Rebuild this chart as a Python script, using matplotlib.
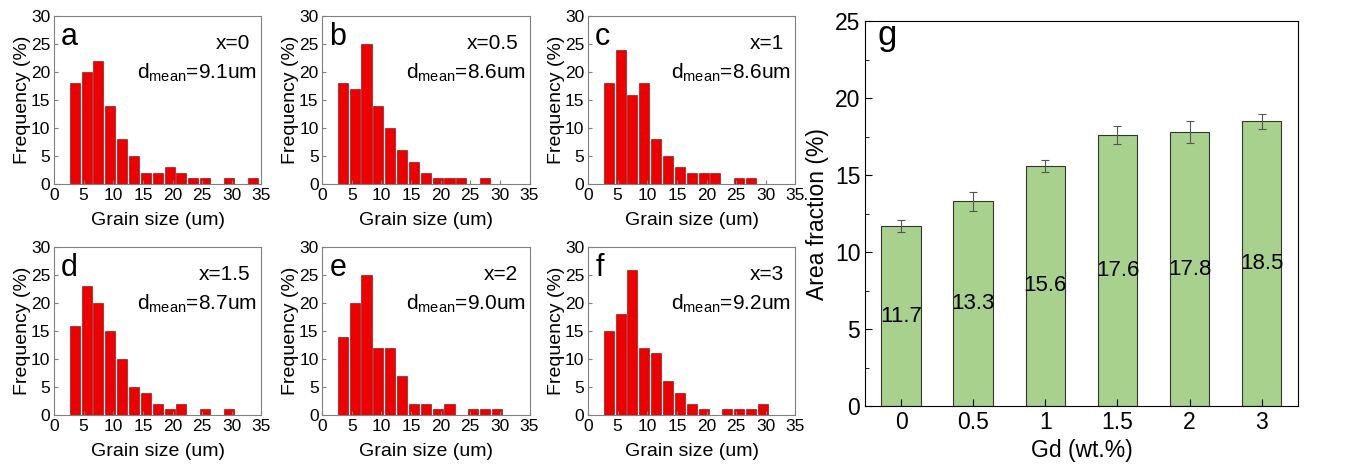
import matplotlib
matplotlib.use("Agg")
import matplotlib.pyplot as plt
import numpy as np

plt.rcParams['font.family'] = ['Liberation Sans', 'DejaVu Sans']
plt.rcParams['mathtext.fontset'] = 'custom'
plt.rcParams['mathtext.rm'] = 'Liberation Sans'

# ---- grain size histograms (bin centres in um, frequency in %) ----
bin_centers = [3.5, 5.5, 7.5, 9.5, 11.5, 13.5, 15.5, 17.5, 19.5, 21.5,
               23.5, 25.5, 27.5, 29.5, 31.5, 33.5]
freq_a = [18, 20, 22, 14, 8, 5, 2, 2, 3, 2, 1, 1, 0, 1, 0, 1]
freq_b = [18, 17, 25, 14, 10, 6, 4, 2, 1, 1, 1, 0, 1, 0, 0, 0]
freq_c = [18, 24, 16, 18, 8, 5, 3, 2, 2, 2, 0, 1, 1, 0, 0, 0]
freq_d = [16, 23, 20, 15, 10, 5, 4, 2, 1, 2, 0, 1, 0, 1, 0, 0]
freq_e = [14, 20, 25, 12, 12, 7, 2, 2, 1, 2, 0, 1, 1, 1, 0, 0]
freq_f = [15, 18, 26, 12, 11, 6, 4, 2, 1, 0, 1, 1, 1, 2, 0, 0]

panel_letters = ['a', 'b', 'c', 'd', 'e', 'f']
x_labels = ['x=0', 'x=0.5', 'x=1', 'x=1.5', 'x=2', 'x=3']
d_means = ['9.1', '8.6', '8.6', '8.7', '9.0', '9.2']

# ---- area fraction bar chart ----
gd_labels = ['0', '0.5', '1', '1.5', '2', '3']
area_frac = [11.7, 13.3, 15.6, 17.6, 17.8, 18.5]
area_err = [0.4, 0.6, 0.4, 0.6, 0.7, 0.5]

fig = plt.figure(figsize=(13.56, 4.70), dpi=100)

lefts = [0.0398, 0.2375, 0.4336]
bottoms = [0.6085, 0.117]
w, h = 0.153, 0.357
all_freq = [freq_a, freq_b, freq_c, freq_d, freq_e, freq_f]

for i, freq in enumerate(all_freq):
    ax = fig.add_axes([lefts[i % 3], bottoms[i // 3], w, h])
    ax.bar(bin_centers, freq, width=1.7, color='#ee0000',
           edgecolor='#7a0000', linewidth=0.4)
    ax.set_xlim(0, 35)
    ax.set_ylim(0, 30)
    ax.set_xticks(np.arange(0, 36, 5))
    ax.set_yticks(np.arange(0, 31, 5))
    ax.tick_params(direction='in', length=3, labelsize=12.5,
                   color='#808080')
    ax.tick_params(axis='x', pad=3)
    ax.tick_params(axis='y', pad=2.5)
    for s in ax.spines.values():
        s.set_color('#808080')
        s.set_linewidth(0.8)
    ax.set_ylabel('Frequency (%)', fontsize=14, labelpad=0)
    ax.set_xlabel('Grain size (um)', fontsize=14, labelpad=6)
    ax.text(0.035, 0.875, panel_letters[i], transform=ax.transAxes,
            fontsize=22, va='center', ha='left')
    ax.text(0.945, 0.84, x_labels[i], transform=ax.transAxes,
            fontsize=15, va='center', ha='right')
    ax.text(0.98, 0.665, r'd$\mathregular{_{mean}}$=' + d_means[i] + 'um',
            transform=ax.transAxes, fontsize=15, va='center', ha='right')

# ---- panel g ----
axg = fig.add_axes([0.638, 0.136, 0.319, 0.819])
xg = np.arange(len(gd_labels))
axg.bar(xg, area_frac, width=0.55, color='#a9d18e', edgecolor='#333333',
        linewidth=0.8)
axg.errorbar(xg, area_frac, yerr=area_err, fmt='none', ecolor='#555555',
             elinewidth=0.8, capsize=3, capthick=0.8)
for xi, v in zip(xg, area_frac):
    axg.text(xi, v / 2, f'{v}', ha='center', va='center', fontsize=16)
axg.set_xlim(-0.5, 5.5)
axg.set_ylim(0, 25)
axg.set_xticks(xg)
axg.set_xticklabels(gd_labels)
axg.set_yticks(np.arange(0, 26, 5))
axg.set_yticks(np.arange(2.5, 25, 5), minor=True)
axg.tick_params(which='both', direction='in', labelsize=16.5)
axg.tick_params(which='major', length=5)
axg.tick_params(which='minor', length=3)
axg.set_ylabel('Area fraction (%)', fontsize=16.5, labelpad=4)
axg.set_xlabel('Gd (wt.%)', fontsize=16.5, labelpad=4)
axg.text(0.028, 0.963, 'g', transform=axg.transAxes, fontsize=25,
         va='center', ha='left')

fig.savefig('out.png', dpi=100)
